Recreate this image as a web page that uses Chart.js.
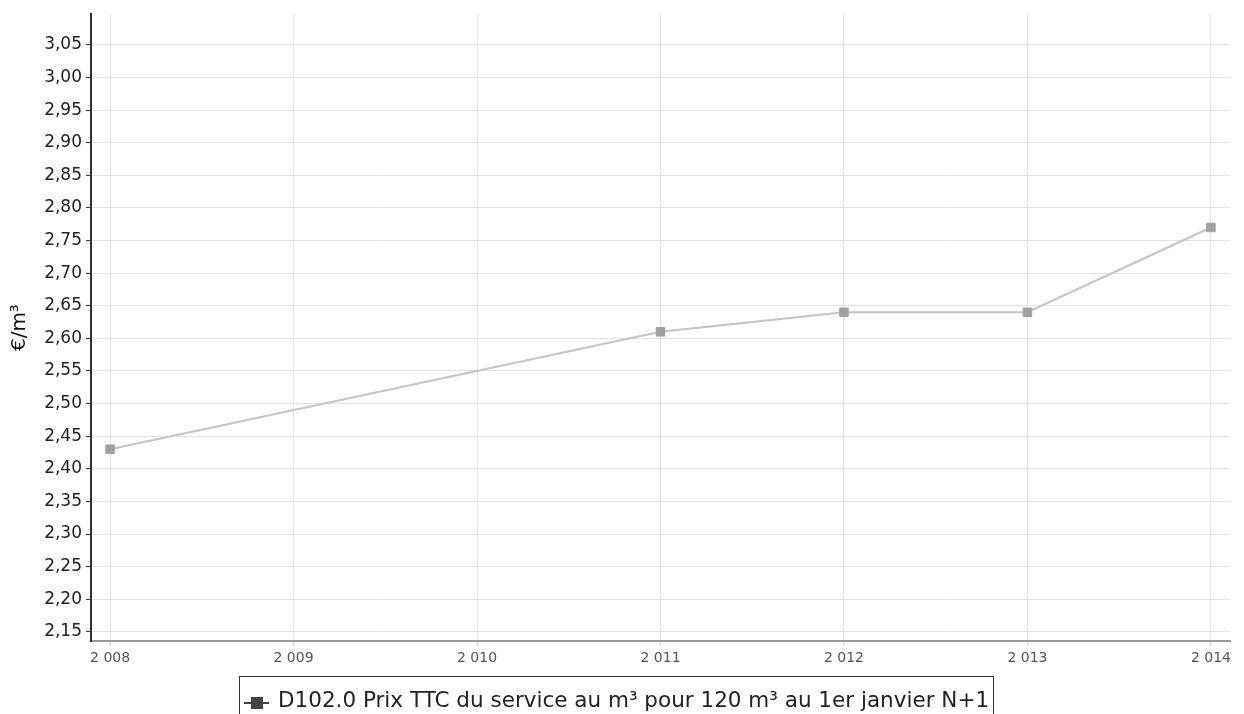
<!DOCTYPE html>
<html>
<head>
<meta charset="utf-8">
<script src="https://cdn.jsdelivr.net/npm/chart.js@4/dist/chart.umd.min.js"></script>
<style>
  html,body{margin:0;padding:0;background:#fff;overflow:hidden;}
  #wrap{position:relative;width:1244px;height:714px;overflow:hidden;}
  #legend{position:absolute;left:239px;top:676px;width:755px;height:44px;border:1px solid #333;box-sizing:border-box;
    font-family:"DejaVu Sans",sans-serif;font-size:21.5px;color:#222;white-space:nowrap;}
  #legend .mk{position:absolute;left:4px;top:25px;width:25px;height:2px;background:#444;}
  #legend .sq{position:absolute;left:11px;top:20px;width:12px;height:12px;background:#444;}
  #legend .tx{position:absolute;left:38px;top:10px;line-height:26px;}
</style>
</head>
<body>
<div id="wrap">
<canvas id="c" width="1244" height="714"></canvas>
<div id="legend"><span class="mk"></span><span class="sq"></span><span class="tx" id="legtext"></span></div>
</div>
<script>
const years = [2008, 2009, 2010, 2011, 2012, 2013, 2014];
const prices = [2.43, null, null, 2.61, 2.64, 2.64, 2.77];
const yTicks = [2.15,2.20,2.25,2.30,2.35,2.40,2.45,2.50,2.55,2.60,2.65,2.70,2.75,2.80,2.85,2.90,2.95,3.00,3.05];
const seriesLabel = "D102.0 Prix TTC du service au m³ pour 120 m³ au 1er janvier N+1";
const yTitle = "€/m³";

document.getElementById('legtext').textContent = seriesLabel;

const points = years.map((y,i)=>({x:y,y:prices[i]})).filter(p=>p.y!==null);

new Chart(document.getElementById('c'), {
  type: 'line',
  data: {
    datasets: [{
      label: seriesLabel,
      data: points,
      borderColor: '#c4c4c4',
      borderWidth: 2,
      pointStyle: 'rect',
      pointRadius: 6,
      pointBackgroundColor: '#a0a0a0',
      pointBorderColor: '#a0a0a0',
      pointBorderWidth: 1,
      tension: 0
    }]
  },
  options: {
    responsive: false,
    animation: false,
    layout: { padding: { left: 8, right: 14, top: 12, bottom: 0 } },
    plugins: { legend: { display: false }, tooltip: { enabled: false } },
    scales: {
      x: {
        type: 'linear',
        min: 2007.896,
        max: 2014.104,
        afterBuildTicks: (axis) => { axis.ticks = years.map(v => ({ value: v })); },
        afterFit: (s) => { s.height = 73; },
        grid: { color: '#e2e2e2', lineWidth: 1, tickLength: 4, tickColor: '#ccc' },
        border: { color: '#999', width: 2 },
        ticks: {
          color: '#555',
          font: { family: 'DejaVu Sans', size: 14 },
          padding: 5,
          maxRotation: 0,
          callback: (v) => { const s = String(v); return s.slice(0,1) + ' ' + s.slice(1); }
        }
      },
      y: {
        min: 2.136,
        max: 3.097,
        afterBuildTicks: (axis) => { axis.ticks = yTicks.map(v => ({ value: v })); },
        afterFit: (s) => { s.width = 83; },
        grid: { color: '#e2e2e2', lineWidth: 1, tickLength: 5, tickColor: '#333' },
        border: { color: '#333', width: 2 },
        title: { display: true, text: yTitle, color: '#111', font: { family: 'DejaVu Sans', size: 20 }, padding: 0 },
        ticks: {
          color: '#222',
          font: { family: 'DejaVu Sans', size: 17 },
          padding: 4,
          callback: (v) => v.toFixed(2).replace('.', ',')
        }
      }
    }
  }
});
</script>
</body>
</html>
